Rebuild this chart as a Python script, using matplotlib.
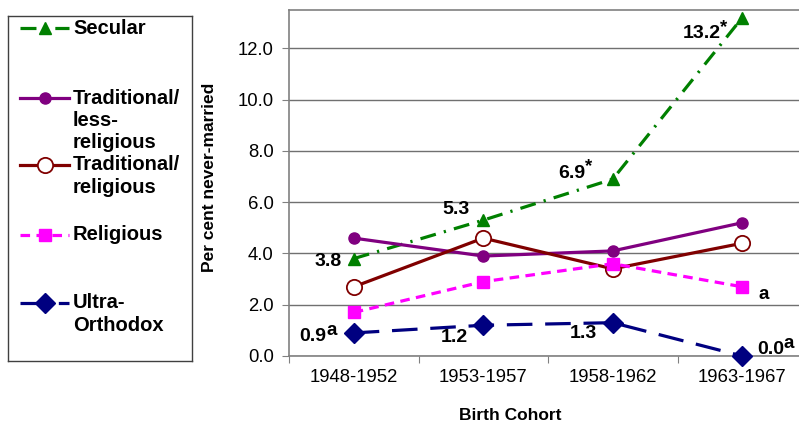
import matplotlib
matplotlib.use('Agg')
import matplotlib.pyplot as plt
from matplotlib.lines import Line2D

plt.rcParams['font.family'] = ['Liberation Sans', 'DejaVu Sans']

cohorts = ['1948-1952', '1953-1957', '1958-1962', '1963-1967']
secular = [3.8, 5.3, 6.9, 13.2]
trad_less = [4.6, 3.9, 4.1, 5.2]
trad_rel = [2.7, 4.6, 3.4, 4.4]
religious = [1.7, 2.9, 3.6, 2.7]
ultra = [0.9, 1.2, 1.3, 0.0]

names = ['Secular', 'Traditional/\nless-\nreligious', 'Traditional/\nreligious',
         'Religious', 'Ultra-\nOrthodox']

# data labels: (series, point index, text, superscript, offset in pixels)
labels = [
    (secular, 0, '3.8', '', (-26, -3)),
    (secular, 1, '5.3', '', (-27, 11)),
    (secular, 2, '6.9', '*', (-41, 6)),
    (secular, 3, '13.2', '*', (-41, -16)),
    (ultra, 0, '0.9', 'a', (-41, -4)),
    (ultra, 1, '1.2', '', (-29, -12)),
    (ultra, 2, '1.3', '', (-29, -11)),
    (ultra, 3, '0.0', 'a', (28, 6)),
    (religious, 3, '', 'a', (21, -8)),
]

styles = [
    dict(color='#008000', ls=(0, (5, 2.6, 0.7, 2.6)), marker='^', ms=9, mfc='#008000', mec='#008000'),
    dict(color='#800080', ls='-', marker='o', ms=8, mfc='#800080', mec='#800080'),
    dict(color='#800000', ls='-', marker='o', ms=11, mfc='white', mec='#800000', mew=1.3),
    dict(color='#ff00ff', ls=(0, (3, 2)), marker='s', ms=8, mfc='#ff00ff', mec='#ff00ff'),
    dict(color='#000080', ls=(0, (8, 4)), marker='D', ms=10, mfc='#000080', mec='#000080'),
]
series = [secular, trad_less, trad_rel, religious, ultra]

W, H = 799, 422
fig = plt.figure(figsize=(W / 100, H / 100), dpi=100)
ax = fig.add_axes([289 / W, 66 / H, 518 / W, 346 / H])

x = list(range(len(cohorts)))
for s, st in zip(series, styles):
    ax.plot(x, s, lw=2.3, clip_on=False, zorder=3, **st)

ax.set_xlim(-0.5, 3.5)
ax.set_ylim(0, 13.5)
ax.set_yticks([0, 2, 4, 6, 8, 10, 12])
ax.set_yticklabels(['%.1f' % v for v in [0, 2, 4, 6, 8, 10, 12]])
ax.set_xticks([-0.5, 0.5, 1.5, 2.5, 3.5])
ax.set_xticklabels([])
ax.set_xticks(x, minor=True)
ax.set_xticklabels(cohorts, minor=True)
ax.tick_params(axis='x', which='major', length=5, color='#808080', direction='out')
ax.tick_params(axis='x', which='minor', length=0, pad=9, labelsize=13.3)
ax.tick_params(axis='y', length=5, color='#808080', pad=6, labelsize=13.3)
ax.grid(axis='y', color='#707070', lw=1)
ax.set_axisbelow(True)
for side in ['left', 'bottom', 'top']:
    ax.spines[side].set_color('#808080')
    ax.spines[side].set_linewidth(1.2)
ax.spines['right'].set_visible(False)

ax.set_ylabel('Per cent never-married', fontsize=12.5, fontweight='bold')
ax.yaxis.set_label_coords(-0.139, 0.516)
ax.set_xlabel('Birth Cohort', fontsize=12.5, fontweight='bold')
ax.xaxis.set_label_coords(0.427, -0.150)

for s, i, txt, sup, off in labels:
    a = ax.annotate(txt, xy=(i, s[i]), xytext=off, textcoords='offset pixels',
                    ha='center', va='center', fontsize=14, fontweight='bold', zorder=5)
    if sup:
        if txt:
            ax.annotate(sup, xy=(1, 1), xycoords=a, xytext=(0, -2), textcoords='offset pixels',
                        ha='left', va='center', fontsize=13.5, fontweight='bold')
        else:
            ax.annotate(sup, xy=(i, s[i]), xytext=off, textcoords='offset pixels',
                        ha='center', va='center', fontsize=13.5, fontweight='bold')

# legend box drawn in its own axes, pixel units from the box's top-left
lg = fig.add_axes([8 / W, 61 / H, 184 / W, 345 / H])
lg.set_xlim(0, 184)
lg.set_ylim(345, 0)
lg.set_xticks([])
lg.set_yticks([])
for sp in lg.spines.values():
    sp.set_color('#404040')
    sp.set_linewidth(1)
ys = [12, 82, 149, 219, 287]
for yy, nm, st in zip(ys, names, styles):
    lg.add_line(Line2D([12, 61], [yy, yy], lw=2.3, color=st['color'], ls=st['ls']))
    lg.add_line(Line2D([37], [yy], ls='none', marker=st['marker'], ms=st['ms'],
                       mfc=st['mfc'], mec=st['mec'], mew=st.get('mew', 1)))
    lg.text(65, yy - 9.5, nm, ha='left', va='top', fontsize=14.5, fontweight='bold',
            linespacing=1.22)

fig.savefig('out.png', dpi=100)
